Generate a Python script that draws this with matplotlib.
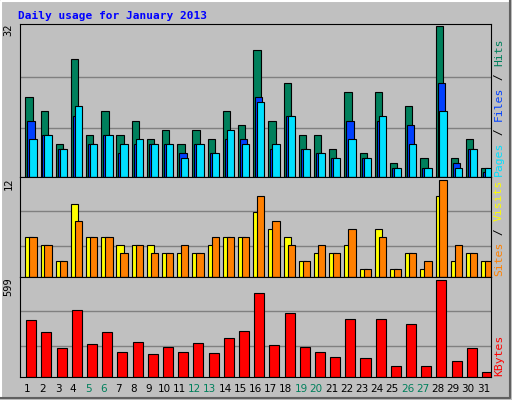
import matplotlib
matplotlib.use("Agg")
import matplotlib.pyplot as plt

days = list(range(1, 32))
hits = [17,14,7,25,9,14,9,12,8,10,7,10,8,14,11,27,12,20,9,9,6,18,5,18,3,15,4,32,4,8,2]
files = [12,9,6,13,7,9,5,7,7,7,5,7,5,8,8,17,6,13,6,5,4,12,4,12,2,11,2,20,3,6,1]
pages = [8,9,6,15,7,9,7,8,7,7,4,7,5,10,7,16,7,13,6,5,4,8,4,13,2,7,2,14,2,6,2]
sites = [5,4,2,9,5,5,4,4,4,3,3,3,4,5,5,8,6,5,2,3,3,4,1,6,1,3,1,10,2,3,2]
visits = [5,4,2,7,5,5,3,4,3,3,4,3,5,5,5,10,7,4,2,4,3,6,1,5,1,3,2,12,4,3,2]
kbytes = [355,276,178,417,204,276,158,217,145,184,158,211,151,244,283,520,197,395,184,158,125,362,118,362,66,329,66,599,99,178,33]
weekend = {5,6,12,13,19,20,26,27}

W, H = 512, 400
fig = plt.figure(figsize=(5.12, 4.0), dpi=100)
fig.patch.set_facecolor("#C0C0C0")
bg = fig.add_axes([0, 0, 1, 1]); bg.set_axis_off()
bg.set_xlim(0, W); bg.set_ylim(H, 0)
bg.plot([1, 1, W-2], [H-2, 1, 1], color="white", lw=1.5)
bg.plot([1, W-2, W-2], [H-2, H-2, 1], color="#606060", lw=1.5)
bg.text(18, 16, "Daily usage for January 2013", color="#0000FF", fontsize=8,
        fontweight="bold", family="DejaVu Sans Mono", va="center")

def panel(top, bot):
    return fig.add_axes([20/W, 1-bot/H, 471/W, (bot-top)/H])

def style(ax, ymax, grids, label):
    ax.set_facecolor("#C0C0C0")
    ax.set_xlim(0.5, 31.5); ax.set_ylim(0, ymax)
    ax.set_xticks([]); ax.set_yticks([])
    for g in grids:
        ax.axhline(g, color="#808080", lw=1, zorder=0)
    for s in ax.spines.values():
        s.set_color("black")
    ax.text(-0.025, 1.0, label, transform=ax.transAxes, rotation=90,
            ha="center", va="top", fontsize=7.5, family="DejaVu Sans Mono")

ek = dict(edgecolor="black", linewidth=0.8, align="edge", width=0.48)
a1 = panel(24, 177)
style(a1, 32.5, [10.5, 21.3], "32")
a1.bar([d-0.15 for d in days], hits, color="#00805C", **ek)
a1.bar([d-0.02 for d in days], files, color="#0040FF", **ek)
a1.bar([d+0.11 for d in days], pages, color="#00E0FF", **ek)

a2 = panel(177, 277)
style(a2, 12.4, [3.9, 8.2], "12")
a2.bar([d-0.15 for d in days], sites, color="#FFFF00", **ek)
a2.bar([d+0.11 for d in days], visits, color="#FF8000", **ek)

a3 = panel(277, 377)
style(a3, 620, [190, 410], "599")
a3.bar([d-0.09 for d in days], kbytes, color="#FF0000", edgecolor="black",
       linewidth=0.8, align="edge", width=0.66)

for d in days:
    x = 20 + (d - 0.5) / 31 * 471
    bg.text(x, 389, str(d), ha="center", va="center", fontsize=7.5,
            color="#00805C" if d in weekend else "black", family="DejaVu Sans")

mono = "DejaVu Sans Mono"
FS = 8.2
ADV = FS * 0.602 * 100 / 72
def rlabel(y, parts):
    yy = y
    for txt, col in parts:
        bg.text(499, yy, txt, rotation=90, color=col, fontsize=FS, family=mono,
                ha="center", va="bottom")
        yy -= len(txt) * ADV
rlabel(176, [("Pages", "#00E0FF"), (" / ", "#000000"), ("Files", "#0040FF"), (" / ", "#000000"), ("Hits", "#00805C")])
rlabel(276, [("Sites", "#FF8000"), (" / ", "#000000"), ("Visits", "#FFFF00")])
rlabel(376, [("KBytes", "#FF0000")])

fig.savefig("out.png", dpi=100, facecolor=fig.get_facecolor())
